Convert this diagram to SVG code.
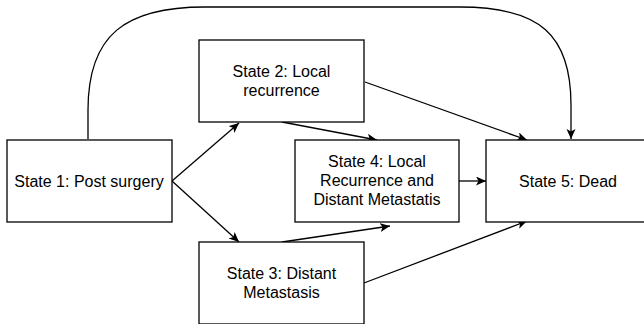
<svg xmlns="http://www.w3.org/2000/svg" width="644" height="324" viewBox="0 0 644 324">
<style>
.box{fill:#fff;stroke:#000;stroke-width:1.3}
.lbl{font-family:"Liberation Sans",Arial,Helvetica,sans-serif;font-size:16px;fill:#000;text-anchor:middle}
.edge{fill:none;stroke:#000;stroke-width:1.3;marker-end:url(#arr)}
</style>
<defs>
<marker id="arr" markerUnits="userSpaceOnUse" markerWidth="12" markerHeight="10" refX="10" refY="4.5" orient="auto">
<path d="M0,0 L10,4.5 L0,9 L2.5,4.5 Z" fill="#000"/>
</marker>
</defs>
<rect width="644" height="324" fill="#fff"/>
<g id="connectors">
<path class="edge" d="M88,139 L88,110 C88,35 125,7 205,7 L460,7 C540,7 571,35 571,105 L571,139"/>
<path class="edge" d="M172,181 L239,123"/>
<path class="edge" d="M172,181 L239,242"/>
<path class="edge" d="M282,122 L377,140"/>
<path class="edge" d="M365,82 L527,140"/>
<path class="edge" d="M282,242 L390,226"/>
<path class="edge" d="M364,283 L527,221"/>
<path class="edge" d="M459,181 L486,181"/>
</g>
<g id="state1">
<rect class="box" x="7" y="140" width="165" height="82"/>
<text class="lbl" x="89" y="187">State 1: Post surgery</text>
</g>
<g id="state2">
<rect class="box" x="199" y="40" width="165" height="82"/>
<text class="lbl" x="281.5" y="77">State 2: Local</text>
<text class="lbl" x="281.5" y="96">recurrence</text>
</g>
<g id="state3">
<rect class="box" x="199" y="242" width="165" height="82"/>
<text class="lbl" x="281.5" y="279">State 3: Distant</text>
<text class="lbl" x="281.5" y="298">Metastasis</text>
</g>
<g id="state4">
<rect class="box" x="295" y="140" width="164" height="82"/>
<text class="lbl" x="377" y="167">State 4: Local</text>
<text class="lbl" x="377" y="186">Recurrence and</text>
<text class="lbl" x="377" y="205">Distant Metastatis</text>
</g>
<g id="state5">
<rect class="box" x="486" y="140" width="165" height="82"/>
<text class="lbl" x="568" y="187">State 5: Dead</text>
</g>
</svg>
